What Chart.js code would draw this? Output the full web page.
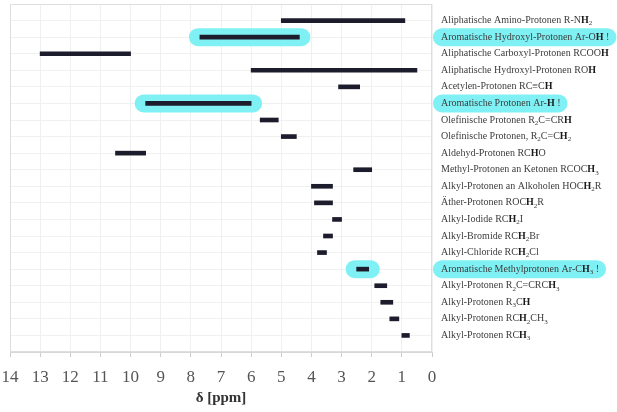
<!DOCTYPE html>
<html>
<head>
<meta charset="utf-8">
<script src="https://cdn.jsdelivr.net/npm/chart.js@4"></script>
<style>
  body { margin: 0; background: #fff; }
</style>
</head>
<body>
<canvas id="c" width="617" height="412"></canvas>
<script>
// labels: *..* = bold, _x = subscript
const labels = [
  'Aliphatische Amino-Protonen R-N*H*_2',
  'Aromatische Hydroxyl-Protonen Ar-O*H* !',
  'Aliphatische Carboxyl-Protonen RCOO*H*',
  'Aliphatische Hydroxyl-Protonen RO*H*',
  'Acetylen-Protonen RC\u2261C*H*',
  'Aromatische Protonen Ar-*H* !',
  'Olefinische Protonen R_2C=CR*H*',
  'Olefinische Protonen, R_2C=C*H*_2',
  'Aldehyd-Protonen RC*H*O',
  'Methyl-Protonen an Ketonen RCOC*H*_3',
  'Alkyl-Protonen an Alkoholen HOC*H*_2R',
  '\u00c4ther-Protonen ROC*H*_2R',
  'Alkyl-Iodide RC*H*_2I',
  'Alkyl-Bromide RC*H*_2Br',
  'Alkyl-Chloride RC*H*_2Cl',
  'Aromatische Methylprotonen Ar-C*H*_3 !',
  'Alkyl-Protonen R_2C=CRC*H*_3',
  'Alkyl-Protonen R_3C*H*',
  'Alkyl-Protonen RC*H*_2CH_3',
  'Alkyl-Protonen RC*H*_3'
];

// chemical shift ranges in ppm
const shiftHigh = [5.0, 7.7, 13.0, 6.0, 3.1, 9.5, 5.7, 5.0, 10.5, 2.6, 4.0, 3.9, 3.3, 3.6, 3.8, 2.5, 1.9, 1.7, 1.4, 1.0];
const shiftLow  = [0.9, 4.4, 10.0, 0.5, 2.4, 6.0, 5.1, 4.5, 9.5, 2.0, 3.3, 3.3, 3.0, 3.3, 3.5, 2.1, 1.5, 1.3, 1.1, 0.75];

// rows marked with the cyan highlighter
const markedRows = [1, 5, 15];

const CYAN = '#7ff1f4';
const FONT = '"Liberation Serif", "DejaVu Serif", serif';

function parseLabel(s) {
  const runs = [];
  let bold = false;
  for (let i = 0; i < s.length; i++) {
    let ch = s[i], sub = false;
    if (ch === '*') { bold = !bold; continue; }
    if (ch === '_') { ch = s[++i]; sub = true; }
    const last = runs[runs.length - 1];
    if (last && last.bold === bold && last.sub === sub) last.t += ch;
    else runs.push({ t: ch, bold: bold, sub: sub });
  }
  return runs;
}

function setFont(ctx, r) {
  ctx.font = (r.bold ? 'bold ' : '') + (r.sub ? 7 : 10) + 'px ' + FONT;
}

function labelWidth(ctx, runs) {
  let w = 0;
  runs.forEach(r => { setFont(ctx, r); w += ctx.measureText(r.t).width; });
  return w;
}

function roundRect(ctx, x, y, w, h, r) {
  ctx.beginPath();
  ctx.roundRect(x, y, w, h, r);
  ctx.fill();
}

const rowLabels = {
  id: 'rowLabels',
  beforeDatasetsDraw(chart) {
    const ctx = chart.ctx, area = chart.chartArea;
    const yScale = chart.scales.y;
    const meta = chart.getDatasetMeta(0);
    ctx.save();
    ctx.fillStyle = CYAN;
    markedRows.forEach(i => {
      const bar = meta.data[i];
      const x1 = Math.min(bar.x, bar.base), x2 = Math.max(bar.x, bar.base);
      roundRect(ctx, x1 - 11, bar.y - 9, x2 - x1 + 22, 18, 9);
      const y = yScale.getPixelForValue(i);
      const w = labelWidth(ctx, parseLabel(labels[i]));
      roundRect(ctx, area.right + 1, y - 9, w + 15, 18, 9);
    });
    ctx.restore();
  },
  afterDraw(chart) {
    const ctx = chart.ctx, area = chart.chartArea;
    const yScale = chart.scales.y;
    ctx.save();
    ctx.strokeStyle = '#dedede';
    ctx.lineWidth = 1;
    ctx.strokeRect(area.left + 0.5, area.top + 0.5, area.right - area.left - 1, area.bottom - area.top - 1);
    ctx.textBaseline = 'middle';
    labels.forEach((s, i) => {
      const y = yScale.getPixelForValue(i);
      let x = area.right + 9;
      parseLabel(s).forEach(r => {
        setFont(ctx, r);
        ctx.fillStyle = r.bold ? '#1a1a1a' : '#3c3c3c';
        ctx.fillText(r.t, x, y + (r.sub ? 3 : 0));
        x += ctx.measureText(r.t).width;
      });
    });
    ctx.restore();
  }
};

new Chart(document.getElementById('c'), {
  type: 'bar',
  data: {
    datasets: [{
      data: labels.map((l, i) => ({ y: i, x: [shiftHigh[i], shiftLow[i]] })),
      backgroundColor: '#1c1c2c',
      barThickness: 4
    }]
  },
  options: {
    indexAxis: 'y',
    responsive: false,
    animation: false,
    layout: { padding: { left: 10, top: 4, right: 185, bottom: 0 } },
    plugins: { legend: { display: false }, tooltip: { enabled: false } },
    scales: {
      x: {
        type: 'linear',
        min: 0,
        max: 14,
        reverse: true,
        afterFit: s => { s.height = 60; s.paddingLeft = 0; s.paddingRight = 0; },
        ticks: { stepSize: 1, padding: 10, color: '#555', font: { family: FONT, size: 17 } },
        grid: { color: '#eff1f1', tickColor: '#cccccc', tickLength: 5 },
        border: { color: '#d8d8d8' },
        title: {
          display: true,
          text: '\u03b4 [ppm]',
          color: '#333',
          font: { family: FONT, size: 15, weight: 'bold' },
          padding: { top: 0, bottom: 5 }
        }
      },
      y: {
        type: 'linear',
        position: 'right',
        offset: false,
        min: -1,
        max: 20,
        reverse: true,
        ticks: { display: false, stepSize: 1 },
        grid: { color: '#eff1f1', drawTicks: false, offset: false },
        border: { display: false }
      }
    }
  },
  plugins: [rowLabels]
});
</script>
</body>
</html>
